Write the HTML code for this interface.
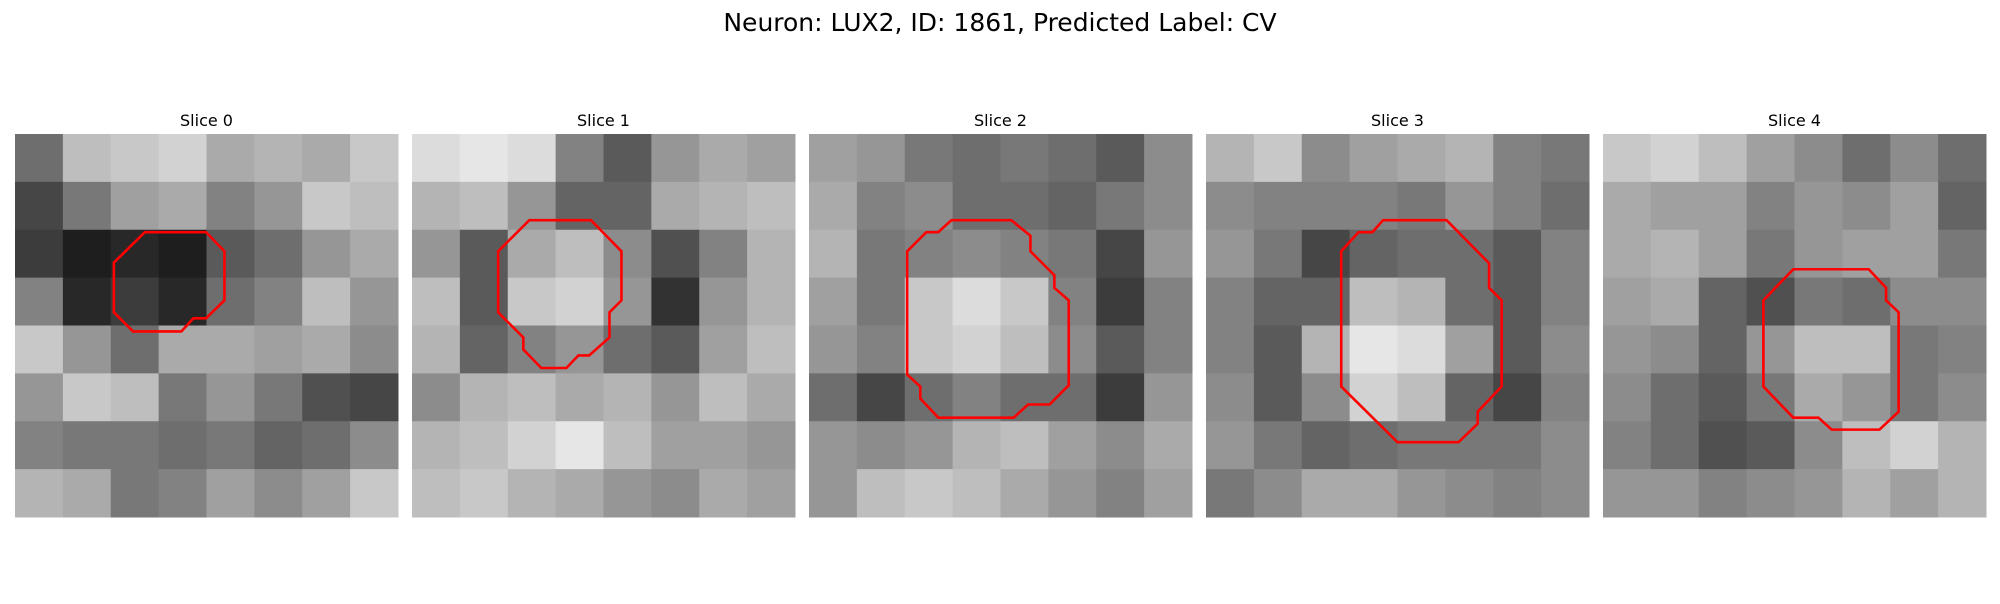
<!DOCTYPE html>
<html><head><meta charset="utf-8"><style>
body{margin:0;background:#fff;width:2000px;height:600px;overflow:hidden;font-family:"DejaVu Sans",sans-serif}
</style></head><body>
<svg id="fig" width="2000" height="600">
<text x="1000" y="31" text-anchor="middle" font-size="25" font-family="DejaVu Sans, sans-serif" fill="#000">Neuron: LUX2, ID: 1861, Predicted Label: CV</text>
</svg>
<script>
const sliceTitles=["Slice 0","Slice 1","Slice 2","Slice 3","Slice 4"];
const gridSize=32;
const slice0=[[110,190,200,210,170,180,170,200],[70,120,160,170,130,150,200,190],[60,30,40,30,90,110,150,170],[130,40,60,40,110,130,190,150],[200,150,110,170,170,160,170,140],[150,200,190,120,150,120,80,70],[130,120,120,110,120,100,110,140],[180,170,120,130,160,140,160,200]];
const slice1=[[220,230,220,130,90,150,170,160],[180,190,150,100,100,170,180,190],[150,90,170,190,140,80,130,180],[190,90,200,210,150,50,150,180],[180,100,130,150,110,90,160,190],[140,180,190,170,180,150,190,170],[180,190,210,230,190,160,160,150],[190,200,180,170,150,140,170,160]];
const slice2=[[160,150,120,110,120,110,90,140],[170,130,140,110,110,100,120,140],[180,120,130,140,130,120,70,150],[160,120,200,220,200,130,60,130],[150,130,200,210,190,140,90,130],[110,70,110,130,110,110,60,150],[150,140,150,180,190,160,140,170],[150,190,200,190,170,150,130,160]];
const slice3=[[180,200,140,160,170,180,130,120],[140,130,130,130,120,150,130,110],[150,120,70,100,110,110,90,130],[130,100,100,190,180,110,90,130],[130,90,180,230,220,160,90,140],[140,90,140,210,190,100,70,130],[150,120,100,110,120,120,120,140],[120,140,170,170,150,140,130,140]];
const slice4=[[200,210,190,160,140,110,140,110],[170,160,160,130,150,140,160,100],[170,180,160,120,150,160,160,120],[160,170,100,80,120,110,140,140],[150,140,100,150,190,190,120,130],[140,110,90,120,170,150,120,140],[130,110,80,90,140,190,210,180],[150,150,130,140,150,180,160,180]];
const contour0=[[10.85,8.2],[15.96,8.2],[17.5,9.8],[17.5,13.9],[15.96,15.4],[14.9,15.4],[13.9,16.5],[9.87,16.5],[8.26,14.9],[8.26,10.75]];
const contour1=[[9.8,7.2],[14.96,7.2],[17.5,9.8],[17.5,13.9],[16.5,14.9],[16.5,17.0],[14.8,18.5],[13.9,18.5],[12.9,19.55],[10.8,19.55],[9.3,18.0],[9.3,17.0],[7.2,14.9],[7.2,9.8]];
const contour2=[[11.9,7.2],[16.9,7.2],[18.5,8.5],[18.5,9.8],[20.5,11.8],[20.5,12.85],[21.7,13.9],[21.7,21.0],[20.1,22.6],[18.3,22.6],[17.1,23.7],[10.8,23.7],[9.3,22.1],[9.3,21.1],[8.2,20.1],[8.2,9.8],[9.8,8.2],[10.8,8.2]];
const contour3=[[14.8,7.2],[20.1,7.2],[23.65,10.8],[23.65,12.85],[24.7,13.9],[24.7,21.1],[22.7,23.2],[22.7,24.2],[21.1,25.75],[16.0,25.75],[11.3,21.1],[11.3,9.8],[12.75,8.2],[13.9,8.2]];
const contour4=[[15.9,11.3],[22.2,11.3],[23.65,12.85],[23.65,13.9],[24.7,14.9],[24.7,23.2],[23.1,24.7],[19.1,24.7],[18.0,23.7],[15.9,23.7],[13.4,21.1],[13.4,13.9]];
const slices=[slice0,slice1,slice2,slice3,slice4];
const contours=[contour0,contour1,contour2,contour3,contour4];
const NS="http://www.w3.org/2000/svg";
const svg=document.getElementById('fig');
const panelX=[15,412,809,1206,1603], panelY=134, panelW=383;
function sx(p,v){return panelX[p]+v/gridSize*panelW;}
function sy(v){return panelY+v/gridSize*panelW;}
slices.forEach((grid,p)=>{
  const g=document.createElementNS(NS,'g');
  
  
  svg.appendChild(g);
  const t=document.createElementNS(NS,'text');
  t.setAttribute('x',panelX[p]+panelW/2);t.setAttribute('y',126);
  t.setAttribute('text-anchor','middle');t.setAttribute('font-size','16');
  t.setAttribute('font-family','DejaVu Sans, sans-serif');
  t.textContent=sliceTitles[p];
  
  
  g.appendChild(t);
  const n=grid.length, step=gridSize/n;
  grid.forEach((row,r)=>row.forEach((v,c)=>{
    const rc=document.createElementNS(NS,'rect');
    const x0=sx(p,c*step),x1=sx(p,(c+1)*step),y0=sy(r*step),y1=sy((r+1)*step);
    rc.setAttribute('x',x0);rc.setAttribute('y',y0);
    rc.setAttribute('width',x1-x0+0.5);rc.setAttribute('height',y1-y0+0.5);
    rc.setAttribute('fill',`rgb(${v},${v},${v})`);
    
    
    g.appendChild(rc);
  }));
  const pl=document.createElementNS(NS,'polygon');
  pl.setAttribute('points',contours[p].map(q=>sx(p,q[0])+','+sy(q[1])).join(' '));
  pl.setAttribute('fill','none');pl.setAttribute('stroke','#ff0000');pl.setAttribute('stroke-width','2.6');
  
  
  g.appendChild(pl);
});
</script>
</body></html>
